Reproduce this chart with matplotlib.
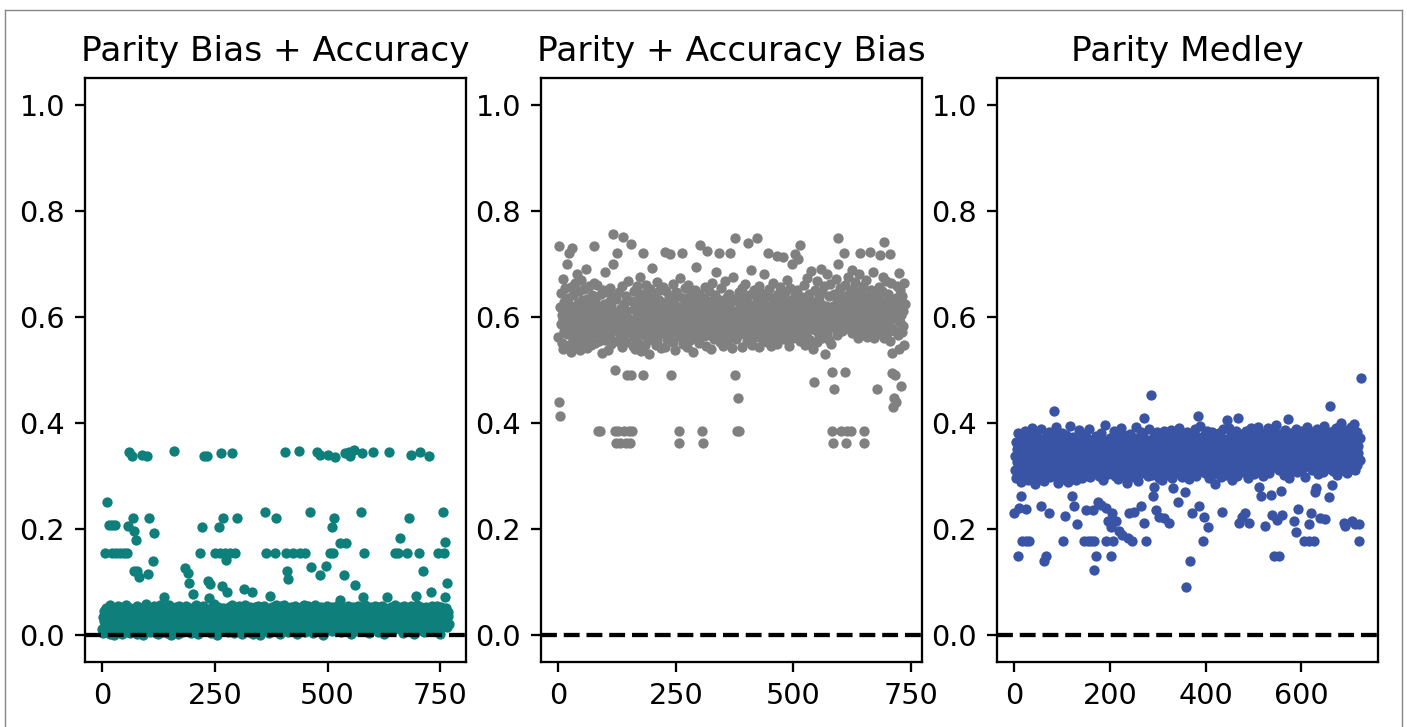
import numpy as np
import matplotlib
matplotlib.use("Agg")
import matplotlib.pyplot as plt
from matplotlib.lines import Line2D

# values, in thousandths
bias_acc_milli = [
    12, 35, 4, 28, 47, 19, 155, 33, 8, 52, 26, 251, 41, 15, 208, 38, 3, 57, 22, 30,
    45, 155, 208, 11, 36, 0, 49, 24, 17, 208, 155, 40, 6, 31, 55, 20, 44, 9, 27, 50,
    155, 14, 37, 2, 48, 29, 53, 18, 155, 39, 7, 33, 58, 23, 46, 155, 12, 42, 207, 345,
    25, 51, 5, 34, 16, 44, 338, 30, 222, 10, 196, 121, 38, 21, 179, 47, 121, 3, 56, 28,
    13, 40, 110, 24, 52, 8, 35, 19, 45, 340, 29, 1, 54, 37, 15, 43, 26, 60, 11, 32,
    338, 48, 115, 20, 222, 39, 6, 50, 27, 14, 41, 33, 9, 140, 55, 193, 22, 45, 30, 4,
    36, 17, 49, 25, 2, 43, 31, 57, 12, 38, 20, 46, 7, 34, 53, 15, 28, 73, 41, 10,
    50, 23, 32, 5, 44, 18, 39, 58, 26, 13, 47, 35, 0, 29, 52, 16, 42, 21, 37, 348,
    8, 45, 27, 54, 14, 33, 48, 3, 24, 40, 19, 56, 30, 11, 46, 36, 22, 51, 6, 31,
    43, 17, 38, 127, 25, 55, 9, 34, 47, 20, 118, 41, 28, 98, 13, 52, 35, 4, 44, 23,
    30, 79, 16, 49, 38, 7, 26, 57, 21, 42, 12, 35, 53, 2, 32, 46, 18, 155, 39, 27,
    48, 205, 14, 36, 55, 338, 23, 41, 8, 30, 50, 19, 44, 338, 11, 103, 33, 70, 97, 26,
    40, 5, 52, 29, 17, 46, 34, 60, 22, 38, 155, 13, 49, 27, 43, 1, 31, 54, 205, 20,
    37, 155, 24, 47, 343, 15, 94, 33, 51, 222, 28, 10, 155, 42, 142, 36, 19, 81, 45, 6,
    32, 53, 21, 155, 39, 12, 48, 26, 58, 343, 17, 41, 30, 4, 155, 45, 23, 35, 222, 50,
    14, 38, 27, 55, 9, 44, 31, 19, 52, 36, 2, 47, 25, 40, 88, 16, 33, 57, 22, 43,
    29, 11, 50, 35, 20, 46, 7, 39, 54, 24, 42, 15, 31, 81, 48, 3, 37, 26, 53, 18,
    44, 32, 10, 49, 23, 56, 38, 13, 45, 28, 0, 41, 34, 19, 52, 25, 47, 8, 36, 21,
    55, 30, 233, 43, 155, 16, 39, 50, 27, 5, 46, 33, 20, 74, 41, 12, 53, 29, 37, 48,
    22, 9, 44, 155, 34, 57, 222, 18, 40, 26, 51, 14, 36, 47, 3, 31, 24, 55, 42, 11,
    38, 49, 20, 33, 58, 15, 346, 43, 155, 121, 27, 52, 6, 106, 35, 46, 21, 40, 30, 54,
    13, 37, 48, 25, 155, 44, 9, 32, 56, 19, 41, 28, 50, 2, 36, 23, 348, 45, 16, 155,
    34, 53, 26, 11, 47, 39, 21, 58, 30, 42, 155, 7, 49, 35, 17, 44, 27, 55, 12, 38,
    233, 24, 46, 31, 128, 52, 19, 40, 5, 33, 48, 26, 57, 14, 43, 36, 22, 346, 50, 29,
    10, 45, 37, 340, 113, 23, 54, 32, 18, 47, 39, 1, 28, 51, 42, 15, 34, 130, 25, 56,
    20, 43, 340, 36, 12, 49, 155, 29, 40, 205, 8, 53, 31, 155, 46, 222, 24, 336, 38, 17,
    44, 27, 55, 14, 35, 48, 22, 67, 175, 41, 6, 30, 52, 37, 19, 45, 26, 113, 33, 343,
    175, 50, 11, 39, 28, 56, 16, 346, 42, 34, 21, 338, 47, 3, 38, 25, 53, 31, 350, 44,
    18, 95, 36, 49, 24, 41, 8, 55, 30, 45, 13, 37, 52, 27, 40, 233, 343, 20, 72, 33,
    155, 46, 23, 58, 35, 10, 42, 29, 51, 17, 38, 48, 4, 32, 54, 26, 44, 15, 39, 21,
    345, 50, 33, 12, 47, 28, 56, 36, 19, 43, 25, 53, 7, 40, 31, 49, 22, 37, 14, 46,
    30, 55, 18, 41, 34, 2, 48, 26, 52, 38, 11, 44, 73, 29, 50, 20, 35, 345, 45, 16,
    39, 27, 54, 32, 9, 47, 23, 42, 36, 57, 155, 14, 40, 30, 51, 19, 45, 155, 25, 48,
    34, 183, 12, 53, 38, 22, 46, 5, 41, 29, 56, 33, 17, 49, 37, 24, 155, 43, 10, 52,
    222, 31, 45, 20, 39, 55, 340, 27, 48, 14, 36, 51, 3, 42, 28, 47, 74, 18, 34, 57,
    25, 44, 155, 37, 11, 50, 345, 30, 53, 21, 41, 16, 121, 35, 48, 6, 39, 27, 54, 32,
    43, 19, 50, 36, 24, 47, 338, 13, 40, 81, 29, 56, 34, 8, 45, 22, 52, 38, 17, 44,
    31, 49, 26, 55, 12, 41, 155, 35, 23, 47, 2, 38, 53, 29, 44, 18, 233, 50, 155, 33,
    73, 176, 40, 27, 52, 15, 98, 36, 45, 21,
]

acc_bias_milli = [
    562, 734, 440, 618, 413, 587, 645, 551, 603, 672, 539, 596, 628, 574, 655, 546, 611, 583, 700, 567,
    592, 636, 548, 720, 609, 571, 657, 534, 620, 589, 730, 558, 641, 600, 577, 664, 543, 615, 595, 680,
    566, 627, 553, 604, 648, 581, 537, 612, 593, 669, 560, 631, 575, 598, 545, 652, 586, 617, 564, 690,
    608, 541, 633, 579, 597, 658, 556, 622, 584, 605, 547, 642, 570, 614, 591, 663, 734, 569, 626, 550,
    601, 638, 576, 660, 588, 385, 554, 619, 594, 385, 644, 563, 607, 580, 532, 651, 599, 573, 625, 685,
    557, 613, 589, 646, 571, 602, 538, 629, 582, 655, 596, 565, 621, 549, 640, 586, 700, 757, 610, 578,
    500, 385, 363, 634, 555, 720, 598, 574, 385, 647, 590, 561, 363, 616, 585, 659, 543, 603, 750, 385,
    624, 567, 593, 363, 639, 552, 490, 611, 580, 668, 385, 597, 572, 363, 490, 737, 630, 385, 587, 545,
    614, 563, 649, 595, 540, 623, 577, 606, 658, 584, 550, 636, 600, 569, 676, 590, 535, 620, 581, 643,
    720, 490, 604, 566, 628, 548, 593, 661, 575, 615, 557, 640, 586, 601, 530, 653, 578, 625, 592, 692,
    561, 610, 583, 645, 572, 599, 638, 547, 620, 588, 665, 555, 606, 579, 632, 568, 596, 651, 541, 617,
    585, 603, 656, 570, 627, 591, 544, 612, 722, 576, 648, 598, 559, 619, 582, 637, 565, 605, 718, 589,
    490, 631, 574, 609, 553, 662, 595, 580, 623, 537, 604, 646, 569, 614, 587, 640, 385, 363, 597, 673,
    562, 618, 583, 720, 606, 549, 635, 590, 571, 654, 601, 578, 626, 544, 613, 592, 660, 567, 608, 581,
    639, 556, 599, 622, 575, 645, 588, 533, 617, 602, 568, 650, 585, 611, 694, 560, 629, 594, 578, 643,
    551, 606, 735, 584, 621, 573, 385, 363, 598, 636, 564, 612, 589, 657, 546, 602, 725, 579, 627, 594,
    566, 648, 583, 609, 540, 630, 597, 574, 663, 590, 615, 558, 604, 641, 577, 596, 685, 562, 619, 586,
    603, 720, 571, 632, 552, 610, 588, 655, 578, 600, 625, 545, 613, 593, 668, 563, 607, 584, 638, 570,
    596, 620, 557, 644, 581, 605, 720, 566, 629, 591, 542, 612, 676, 585, 601, 490, 749, 573, 634, 559,
    385, 610, 447, 592, 385, 647, 568, 621, 599, 580, 655, 544, 616, 587, 637, 604, 570, 662, 593, 611,
    578, 626, 555, 603, 740, 589, 641, 566, 614, 598, 580, 688, 548, 622, 594, 607, 573, 650, 585, 615,
    562, 601, 748, 636, 576, 612, 592, 659, 543, 619, 583, 604, 645, 567, 597, 627, 556, 680, 589, 611,
    574, 639, 596, 553, 617, 583, 606, 720, 569, 652, 590, 621, 546, 601, 635, 578, 664, 593, 560, 614,
    587, 630, 571, 608, 595, 715, 549, 644, 582, 617, 600, 657, 565, 623, 588, 604, 638, 576, 612, 712,
    592, 559, 647, 583, 618, 601, 670, 572, 626, 594, 545, 613, 589, 655, 566, 607, 632, 580, 699, 598,
    561, 620, 585, 642, 718, 576, 609, 593, 651, 568, 628, 710, 588, 603, 554, 735, 616, 581, 637, 597,
    606, 572, 660, 590, 619, 547, 633, 584, 602, 674, 563, 611, 595, 643, 578, 622, 556, 599, 686, 587,
    615, 540, 628, 597, 478, 608, 651, 575, 623, 589, 667, 552, 618, 600, 637, 566, 604, 582, 690, 593,
    625, 561, 646, 587, 610, 574, 658, 596, 531, 621, 603, 680, 570, 614, 592, 640, 557, 606, 584, 662,
    598, 549, 497, 385, 363, 620, 643, 465, 579, 612, 671, 590, 634, 566, 609, 700, 749, 586, 627, 604,
    655, 385, 594, 617, 573, 640, 601, 720, 585, 629, 660, 497, 363, 612, 596, 385, 676, 580, 621, 644,
    592, 608, 385, 637, 570, 689, 615, 599, 652, 583, 627, 604, 666, 576, 618, 595, 641, 561, 610, 680,
    587, 633, 720, 600, 571, 648, 614, 592, 659, 579, 385, 363, 625, 605, 586, 670, 563, 619, 597, 640,
    611, 582, 634, 722, 596, 651, 574, 618, 603, 685, 589, 629, 560, 612, 645, 594, 625, 577, 606, 465,
    638, 591, 657, 602, 716, 569, 622, 597, 648, 584, 613, 676, 742, 603, 560, 630, 594, 667, 578, 617,
    600, 643, 571, 626, 589, 718, 555, 612, 664, 580, 532, 495, 605, 430, 622, 447, 490, 574, 636, 440,
    596, 658, 565, 615, 683, 540, 627, 590, 650, 470, 604, 572, 640, 583, 612, 663, 548, 625,
]

medley_milli = [
    230, 338, 312, 365, 297, 351, 326, 150, 381, 305, 240, 343, 318, 289, 262, 357, 331, 178, 302, 372,
    347, 315, 386, 329, 178, 238, 360, 308, 340, 293, 377, 178, 322, 353, 299, 368, 334, 311, 390, 326,
    345, 306, 362, 285, 337, 320, 379, 301, 355, 331, 314, 370, 296, 348, 324, 388, 244, 309, 342, 363,
    317, 335, 291, 140, 359, 327, 150, 373, 304, 350, 321, 339, 230, 384, 313, 298, 356, 332, 367, 307,
    343, 325, 376, 423, 300, 352, 318, 336, 393, 310, 361, 328, 287, 346, 371, 319, 339, 303, 358, 382,
    323, 178, 349, 295, 366, 334, 225, 312, 354, 378, 330, 306, 341, 289, 363, 316, 395, 337, 299, 351,
    262, 328, 374, 309, 243, 345, 320, 357, 292, 338, 369, 315, 210, 348, 302, 387, 333, 356, 311, 342,
    325, 364, 296, 351, 380, 318, 178, 336, 305, 359, 237, 330, 372, 178, 344, 314, 389, 327, 348, 298,
    178, 361, 320, 339, 237, 307, 178, 124, 353, 333, 150, 375, 316, 346, 252, 329, 366, 301, 357, 341,
    310, 245, 382, 324, 350, 293, 368, 335, 318, 397, 344, 240, 178, 327, 360, 215, 305, 352, 339, 371,
    322, 347, 150, 205, 312, 230, 178, 364, 331, 386, 300, 355, 216, 340, 319, 376, 295, 358, 334, 196,
    349, 368, 314, 337, 391, 303, 190, 356, 326, 343, 378, 309, 362, 321, 348, 288, 370, 183, 332, 353,
    230, 317, 380, 341, 298, 360, 327, 177, 345, 313, 372, 233, 336, 304, 357, 392, 322, 351, 290, 367,
    338, 311, 363, 329, 384, 243, 306, 354, 320, 346, 375, 410, 211, 342, 317, 369, 178, 333, 358, 300,
    347, 326, 389, 314, 340, 452, 361, 303, 335, 262, 372, 319, 280, 352, 308, 366, 237, 331, 383, 344,
    315, 357, 297, 224, 337, 374, 323, 349, 292, 365, 332, 310, 385, 221, 343, 302, 360, 327, 353, 378,
    318, 341, 367, 306, 211, 350, 334, 387, 313, 359, 296, 277, 345, 371, 324, 308, 355, 339, 381, 329,
    362, 317, 348, 252, 333, 391, 304, 356, 322, 369, 341, 299, 376, 328, 351, 312, 364, 271, 92, 337,
    309, 383, 346, 325, 358, 294, 372, 141, 335, 353, 318, 379, 230, 342, 307, 366, 330, 388, 321, 347,
    301, 360, 336, 373, 413, 316, 243, 352, 328, 394, 345, 311, 368, 323, 356, 178, 339, 224, 379, 306,
    349, 332, 385, 318, 205, 362, 297, 344, 371, 327, 355, 310, 340, 383, 302, 366, 334, 351, 320, 377,
    285, 346, 314, 369, 337, 359, 305, 382, 328, 350, 316, 373, 343, 298, 361, 233, 325, 389, 347, 312,
    336, 364, 303, 352, 405, 321, 370, 330, 390, 309, 357, 341, 381, 318, 345, 293, 366, 334, 356, 326,
    374, 313, 349, 338, 385, 301, 361, 328, 410, 342, 211, 366, 320, 354, 333, 379, 224, 347, 307, 370,
    324, 357, 339, 230, 386, 315, 350, 329, 372, 297, 211, 344, 363, 319, 391, 335, 352, 308, 377, 331,
    359, 304, 345, 384, 322, 368, 336, 311, 355, 393, 340, 280, 362, 327, 348, 262, 374, 318, 351, 337,
    300, 366, 329, 381, 206, 344, 314, 358, 333, 371, 321, 390, 342, 306, 361, 336, 265, 353, 376, 227,
    330, 347, 383, 150, 317, 364, 338, 396, 323, 355, 218, 343, 369, 150, 312, 379, 334, 273, 360, 326,
    227, 352, 339, 375, 303, 346, 387, 321, 358, 332, 368, 315, 408, 341, 296, 363, 329, 350, 310, 382,
    337, 354, 319, 377, 345, 215, 365, 328, 194, 389, 349, 307, 371, 335, 238, 357, 324, 380, 342, 312,
    361, 330, 385, 316, 351, 373, 178, 338, 299, 366, 344, 392, 322, 357, 333, 376, 178, 209, 348, 326,
    230, 369, 341, 312, 383, 355, 335, 178, 270, 361, 277, 347, 325, 388, 305, 372, 339, 358, 318, 350,
    222, 336, 379, 329, 363, 308, 354, 394, 331, 345, 220, 370, 314, 359, 340, 383, 323, 352, 260, 366,
    433, 342, 375, 327, 283, 356, 309, 386, 337, 364, 320, 348, 391, 333, 361, 302, 373, 344, 355, 316,
    367, 330, 400, 345, 312, 378, 338, 359, 324, 211, 352, 387, 206, 343, 371, 306, 362, 335, 381, 349,
    326, 368, 341, 393, 317, 357, 215, 346, 375, 332, 398, 352, 311, 210, 364, 338, 384, 321, 356, 343,
    209, 178, 372, 331, 485,
]

titles = ["Parity Bias + Accuracy", "Parity + Accuracy Bias", "Parity Medley"]
colors = ["#0f7f7c", "#808080", "#3954a5"]
series = [bias_acc_milli, acc_bias_milli, medley_milli]

fig = plt.figure(figsize=(1407 / 206, 727 / 206), dpi=206)
lefts = [85 / 1407, 541 / 1407, 997 / 1407]

for left, title, color, vals in zip(lefts, titles, colors, series):
    ax = fig.add_axes([left, 65 / 727, 381 / 1407, 584 / 727])
    y = np.array(vals) / 1000.0
    x = np.arange(len(y))
    ax.scatter(x, y, s=13, color=color, linewidths=0, zorder=2)
    ax.axhline(0, color="black", linestyle="--", linewidth=1.5, zorder=3)
    ax.set_ylim(-0.05, 1.05)
    ax.set_yticks([0.0, 0.2, 0.4, 0.6, 0.8, 1.0])
    ax.set_title(title)

# thin frame around the figure as in the reference screenshot
fw, fh = 1407, 727
frame_kw = dict(color="#888888", linewidth=0.5, transform=fig.transFigure)
fig.add_artist(Line2D([5 / fw, 5 / fw], [0, 1 - 10 / fh], **frame_kw))
fig.add_artist(Line2D([5 / fw, 1402 / fw], [1 - 10 / fh, 1 - 10 / fh], **frame_kw))
fig.add_artist(Line2D([1402 / fw, 1402 / fw], [0, 1 - 10 / fh], **frame_kw))

fig.savefig("out.png", dpi=206)
